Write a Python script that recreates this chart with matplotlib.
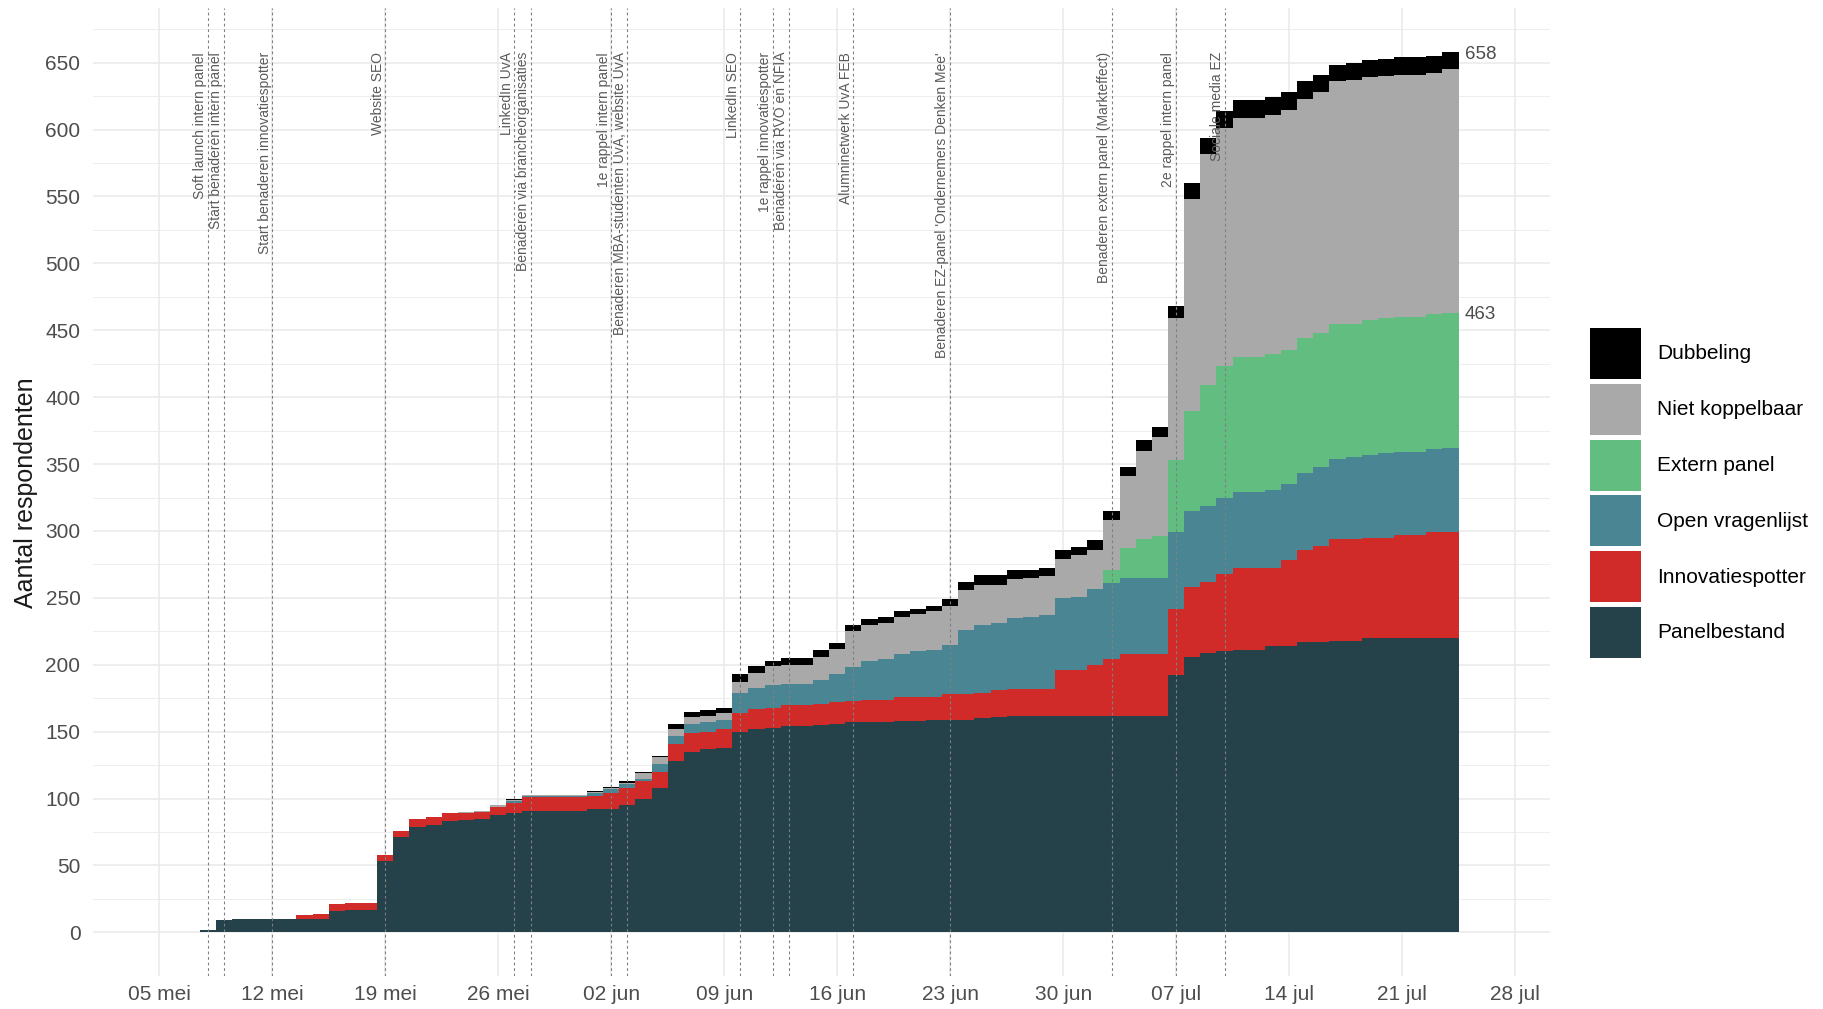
import matplotlib
matplotlib.use("Agg")
import matplotlib.pyplot as plt
import matplotlib.dates as mdates
from matplotlib.patches import Patch
import numpy as np
import pandas as pd

plt.rcParams["font.family"] = ["Liberation Sans", "DejaVu Sans"]

# dagelijkse stand (cumulatief) per bron, 8 mei t/m 24 jul
dates = pd.date_range("2014-05-08", "2014-07-24", freq="D")

panelbestand = [2, 9, 10, 10, 10, 10, 10, 10, 16, 17, 17, 53, 71, 79, 80, 83,
                84, 85, 88, 89, 91, 91, 91, 91, 92, 92, 95, 100, 108, 128, 135, 137,
                138, 150, 152, 153, 154, 154, 155, 156, 157, 157, 157, 158, 158, 159, 159, 159,
                160, 161, 162, 162, 162, 162, 162, 162, 162, 162, 162, 162, 192, 206, 209, 210,
                211, 211, 214, 214, 217, 217, 218, 218, 220, 220, 220, 220, 220, 220]
innovatiespotter = [0, 0, 0, 0, 0, 0, 3, 4, 5, 5, 5, 5, 5, 6, 6, 6,
                    5, 5, 6, 8, 10, 10, 10, 10, 10, 12, 13, 13, 12, 13, 14, 13,
                    14, 14, 15, 15, 16, 16, 16, 16, 16, 17, 17, 18, 18, 17, 19, 19,
                    19, 20, 20, 20, 20, 34, 34, 38, 42, 46, 46, 46, 50, 52, 53, 58,
                    61, 61, 58, 64, 69, 72, 76, 76, 75, 75, 77, 77, 79, 79]
open_vragenlijst = [0, 0, 0, 0, 0, 0, 0, 0, 0, 0, 0, 0, 0, 0, 0, 0,
                    0, 0, 0, 1, 1, 1, 1, 1, 2, 3, 3, 2, 6, 6, 7, 7,
                    7, 15, 16, 17, 16, 16, 18, 21, 25, 29, 30, 32, 34, 35, 37, 48,
                    51, 50, 53, 54, 55, 54, 55, 57, 57, 57, 57, 57, 57, 57, 57, 57,
                    57, 57, 59, 57, 57, 59, 60, 61, 62, 63, 62, 62, 62, 63]
extern_panel = [0, 0, 0, 0, 0, 0, 0, 0, 0, 0, 0, 0, 0, 0, 0, 0,
                0, 0, 0, 0, 0, 0, 0, 0, 0, 0, 0, 0, 0, 0, 0, 0,
                0, 0, 0, 0, 0, 0, 0, 0, 0, 0, 0, 0, 0, 0, 0, 0,
                0, 0, 0, 0, 0, 0, 0, 0, 10, 22, 29, 31, 54, 75, 90, 98,
                101, 101, 101, 100, 101, 100, 101, 100, 101, 101, 101, 101, 101, 101]
niet_koppelbaar = [0, 0, 0, 0, 0, 0, 0, 0, 0, 0, 0, 0, 0, 0, 0, 0,
                   1, 1, 1, 1, 1, 1, 1, 1, 1, 1, 1, 4, 5, 5, 5, 5,
                   5, 8, 11, 14, 14, 14, 17, 19, 27, 27, 27, 28, 28, 29, 29, 30,
                   30, 29, 29, 29, 29, 29, 31, 29, 37, 54, 66, 74, 106, 158, 173, 178,
                   179, 179, 179, 180, 179, 180, 181, 182, 181, 181, 181, 181, 180, 182]
dubbeling = [0, 0, 0, 0, 0, 0, 0, 0, 0, 0, 0, 0, 0, 0, 0, 0,
             0, 0, 0, 1, 0, 0, 0, 0, 1, 1, 1, 1, 1, 4, 4, 4,
             4, 6, 5, 4, 5, 5, 5, 4, 5, 4, 5, 4, 4, 4, 5, 6,
             7, 7, 7, 6, 6, 7, 6, 7, 7, 7, 8, 8, 9, 12, 12, 13,
             13, 13, 13, 13, 13, 13, 12, 13, 13, 13, 13, 13, 13, 13]

series = [
    ("Panelbestand", panelbestand, "#25424A"),
    ("Innovatiespotter", innovatiespotter, "#D12B29"),
    ("Open vragenlijst", open_vragenlijst, "#4A8594"),
    ("Extern panel", extern_panel, "#62BD80"),
    ("Niet koppelbaar", niet_koppelbaar, "#A9A9A9"),
    ("Dubbeling", dubbeling, "#000000"),
]

# acties tijdens het veldwerk
event_dates = ["2014-05-08", "2014-05-09", "2014-05-12", "2014-05-19", "2014-05-27",
               "2014-05-28", "2014-06-02", "2014-06-03", "2014-06-10", "2014-06-12",
               "2014-06-13", "2014-06-17", "2014-06-23", "2014-07-03", "2014-07-07",
               "2014-07-10"]
event_labels = ["Soft launch intern panel", "Start benaderen intern panel",
                "Start benaderen innovatiespotter", "Website SEO", "LinkedIn UvA",
                "Benaderen via brancheorganisaties", "1e rappel intern panel",
                "Benaderen MBA-studenten UvA, website UvA", "LinkedIn SEO",
                "1e rappel innovatiespotter", "Benaderen via RVO en NFIA",
                "Alumninetwerk UvA FEB", "Benaderen EZ-panel 'Ondernemers Denken Mee'",
                "Benaderen extern panel (Markteffect)", "2e rappel intern panel",
                "Sociale media EZ"]

tick_dates = pd.date_range("2014-05-05", "2014-07-28", freq="7D")
tick_labels = ["05 mei", "12 mei", "19 mei", "26 mei", "02 jun", "09 jun", "16 jun",
               "23 jun", "30 jun", "07 jul", "14 jul", "21 jul", "28 jul"]


def main():
    fig = plt.figure(figsize=(18.23, 10.09), dpi=100)
    ax = fig.add_axes([0.0510, 0.0323, 0.7992, 0.9598])

    x = mdates.date2num(dates)
    bottom = np.zeros(len(dates))
    for name, vals, col in series:
        vals = np.array(vals, dtype=float)
        ax.bar(x, vals, width=1.0, bottom=bottom, color=col, linewidth=0,
               antialiased=False, zorder=2)
        bottom += vals

    total = bottom
    top = total.max()
    ev_x = mdates.date2num(pd.to_datetime(event_dates))
    for ex, lab in zip(ev_x, event_labels):
        ax.axvline(ex, color="#808080", lw=0.8, ls=(0, (2.5, 2.5)), zorder=3)
        ax.annotate(lab, xy=(ex, top), xytext=(-0.5, 0), textcoords="offset points",
                    rotation=90, rotation_mode="anchor", ha="right", va="bottom",
                    fontsize=10, color="#5a5a5a", zorder=4)

    # eindstanden
    ext_top = np.sum([s[1] for s in series[:4]], axis=0)
    for val in (total[-1], ext_top[-1]):
        ax.annotate(f"{int(val)}", xy=(x[-1] + 0.9, val), xytext=(0, -1.5),
                    textcoords="offset points", ha="left", va="center",
                    fontsize=13.5, color="#4d4d4d")

    base = mdates.date2num(pd.Timestamp("2014-05-05"))
    ax.set_xlim(base - 4.11, base + 86.16)
    ax.set_ylim(-32.9, 690.9)

    ax.set_xticks(mdates.date2num(tick_dates))
    ax.set_xticklabels(tick_labels)
    ax.set_yticks(np.arange(0, 651, 50))
    ax.set_yticks(np.arange(25, 700, 50), minor=True)
    ax.grid(which="major", color="#EBEBEB", lw=1.2)
    ax.grid(which="minor", axis="y", color="#EBEBEB", lw=0.6)
    ax.set_axisbelow(True)
    ax.tick_params(which="both", length=0, labelsize=15, colors="#4d4d4d")
    ax.tick_params(axis="y", pad=9)
    ax.tick_params(axis="x", pad=6)
    for sp in ax.spines.values():
        sp.set_visible(False)

    fig.text(26 / 1823, 0.512, "Aantal respondenten", rotation=90, ha="center",
             va="center", fontsize=18, color="#1a1a1a")

    handles = [Patch(facecolor=c, edgecolor="none") for _, _, c in series[::-1]]
    labels = [n for n, _, _ in series[::-1]]
    fig.legend(handles, labels, loc="center left", bbox_to_anchor=(1590 / 1823, 0.5114),
               frameon=False, fontsize=15, handlelength=2.45, handleheight=3.39,
               labelspacing=0.23, handletextpad=0.77, borderpad=0, borderaxespad=0)

    fig.savefig("out.png", dpi=100)


if __name__ == "__main__":
    main()
